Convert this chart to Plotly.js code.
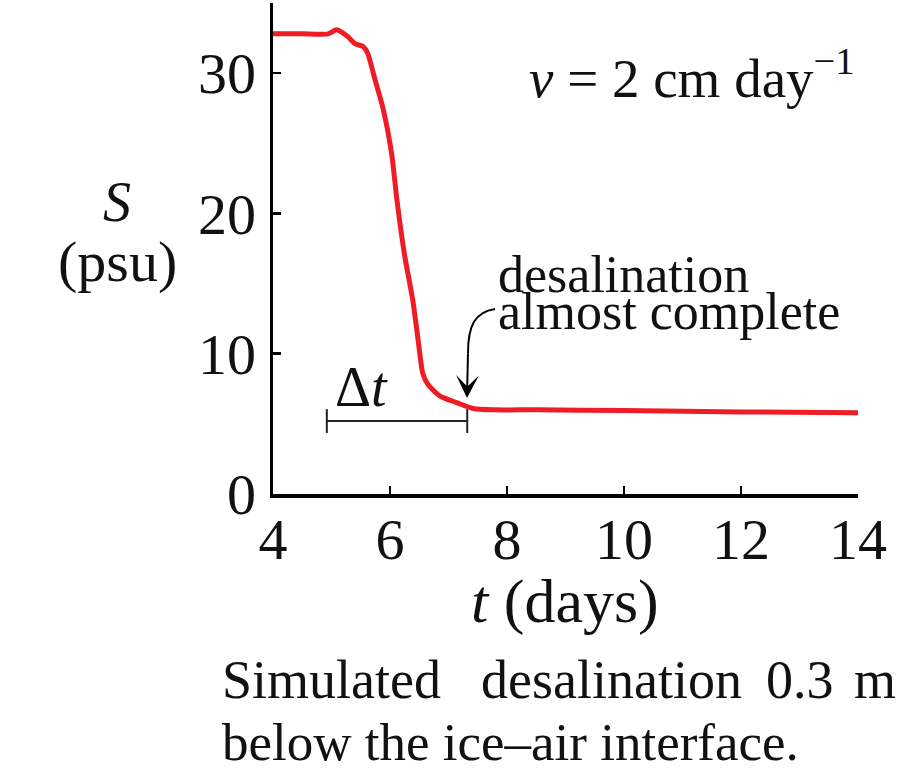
<!DOCTYPE html>
<html>
<head>
<meta charset="utf-8">
<script src="https://cdn.plot.ly/plotly-3.0.1.min.js"></script>
<style>html,body{margin:0;padding:0;background:#fff;}#chart{width:901px;height:770px;}</style>
</head>
<body>
<div id="chart"></div>
<script>
// Data
const timeDays = [4.0, 4.5, 4.94, 5.09, 5.28, 5.40, 5.54, 5.62, 5.74, 5.88, 6.03, 6.12, 6.25, 6.39, 6.48, 6.56, 6.65, 6.85, 7.15, 7.42, 7.76, 8.5, 10.0, 12.0, 14.0];
const salinity = [32.8, 32.8, 32.8, 33.1, 32.6, 32.1, 31.9, 31.4, 29.6, 27.5, 24.2, 20.9, 17.0, 13.8, 11.0, 8.6, 7.8, 7.0, 6.5, 6.1, 6.0, 6.0, 5.95, 5.85, 5.8];
const xTicks = [4, 6, 8, 10, 12, 14];
const yTicks = [0, 10, 20, 30];
const deltaT = [4.92, 7.32];      // extent of the Δt bar (days)
const deltaTLevel = [5.2, 5.2];   // salinity level of the bar

const FONT = "Liberation Serif, Times New Roman, serif";
const NB = '\u00a0';

const traces = [
  {
    x: timeDays, y: salinity, type: 'scatter', mode: 'lines',
    line: {color: '#ee1d25', width: 5, shape: 'spline', smoothing: 0.6},
    hoverinfo: 'skip', showlegend: false
  },
  {
    x: deltaT, y: deltaTLevel, type: 'scatter', mode: 'lines+markers',
    line: {color: '#222', width: 2},
    marker: {symbol: 'line-ns', size: 17, line: {color: '#222', width: 2}},
    hoverinfo: 'skip', showlegend: false
  }
];

const txt = (o) => Object.assign({showarrow: false, xref: 'paper', yref: 'paper'}, o);

const layout = {
  width: 901, height: 770,
  margin: {l: 273, r: 43, t: 3, b: 276},
  paper_bgcolor: '#fff', plot_bgcolor: '#fff',
  font: {family: FONT, color: '#111', size: 58},
  showlegend: false,
  xaxis: {
    range: [4, 14], tickvals: xTicks, ticktext: xTicks.map(String),
    showgrid: false, zeroline: false,
    showline: true, linecolor: '#000', linewidth: 3.5,
    ticks: 'inside', ticklen: 8, tickwidth: 2.5, tickcolor: '#000',
    tickfont: {family: FONT, size: 58, color: '#111'}, ticklabelstandoff: -8
  },
  yaxis: {
    range: [0, 35], tickvals: yTicks, ticktext: yTicks.map(String),
    showgrid: false, zeroline: false,
    showline: true, linecolor: '#000', linewidth: 3.5,
    ticks: 'inside', ticklen: 8, tickwidth: 2.5, tickcolor: '#000',
    tickfont: {family: FONT, size: 58, color: '#111'}, ticklabelstandoff: 2
  },
  shapes: [
    {
      type: 'path', xref: 'x', yref: 'y',
      path: 'M 7.795,13.19 C 7.453,12.97 7.333,12.05 7.333,10.0',
      line: {color: '#000', width: 2}
    }
  ],
  annotations: [
    {xref: 'x', yref: 'y', x: 7.316, y: 6.84, ax: 7.333, ay: 10.1, axref: 'x', ayref: 'y',
     text: '', showarrow: true, arrowhead: 3, arrowsize: 1.9, arrowwidth: 2, arrowcolor: '#000'},
    txt({x: 0.434, y: 0.855, xanchor: 'left', yanchor: 'middle',
     text: '<i>v</i>' + NB + '=' + NB + '2' + NB + 'cm day<sup>−1</sup>', font: {family: FONT, size: 55, color: '#111'}}),
    txt({x: 0.382, y: 0.448, xanchor: 'left', yanchor: 'middle',
     text: 'desalination', font: {family: FONT, size: 52, color: '#111'}}),
    txt({x: 0.382, y: 0.372, xanchor: 'left', yanchor: 'middle',
     text: 'almost complete', font: {family: FONT, size: 52, color: '#111'}}),
    {xref: 'x', yref: 'y', x: 5.52, y: 7.6, xanchor: 'center', yanchor: 'middle',
     text: 'Δ<i>t</i>', showarrow: false, font: {family: FONT, size: 56, color: '#111'}},
    txt({x: -0.267, y: 0.594, xanchor: 'center', yanchor: 'middle',
     text: '<i>S</i>', font: {family: FONT, size: 56, color: '#111'}}),
    txt({x: -0.265, y: 0.474, xanchor: 'center', yanchor: 'middle',
     text: '(psu)', font: {family: FONT, size: 58, color: '#111'}}),
    txt({x: 0.499, y: -0.218, xanchor: 'center', yanchor: 'middle',
     text: '<i>t</i> (days)', font: {family: FONT, size: 62, color: '#111'}}),
    txt({x: -0.0906, y: -0.379, xanchor: 'left', yanchor: 'middle',
     text: 'Simulated', font: {family: FONT, size: 54, color: '#111'}}),
    txt({x: 0.352, y: -0.379, xanchor: 'left', yanchor: 'middle',
     text: 'desalination', font: {family: FONT, size: 54, color: '#111'}}),
    txt({x: 0.839, y: -0.379, xanchor: 'left', yanchor: 'middle',
     text: '0.3', font: {family: FONT, size: 54, color: '#111'}}),
    txt({x: 0.9897, y: -0.379, xanchor: 'left', yanchor: 'middle',
     text: 'm', font: {family: FONT, size: 54, color: '#111'}}),
    txt({x: -0.0906, y: -0.505, xanchor: 'left', yanchor: 'middle',
     text: 'below the ice–air interface.', font: {family: FONT, size: 53, color: '#111'}})
  ]
};

Plotly.newPlot('chart', traces, layout, {staticPlot: true, displayModeBar: false});
</script>
</body>
</html>
